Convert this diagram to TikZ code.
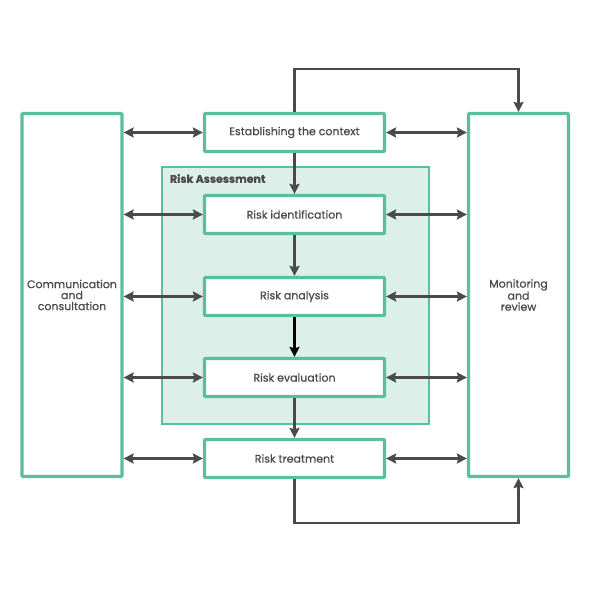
\documentclass[tikz,border=0pt]{standalone}
\usepackage{fontspec}
\setmainfont{Poppins}[FakeBold=0.7]
\usepackage{xcolor}
\usetikzlibrary{arrows.meta}
\definecolor{riskgreen}{HTML}{5BBF9A}
\definecolor{riskpale}{HTML}{DCEFE8}
\definecolor{riskgray}{HTML}{4A4A4A}

\begin{document}
\begin{tikzpicture}[
  x=1pt, y=1pt,
  box/.style={draw=riskgreen, line width=3.2pt, fill=white, rounded corners=1pt, minimum width=180pt, minimum height=38pt, align=center, font=\fontsize{11}{12}\selectfont, text=riskgray},
  side/.style={draw=riskgreen, line width=3.2pt, fill=white, rounded corners=1pt, minimum width=100pt, minimum height=363pt, align=center, font=\fontsize{11}{11}\selectfont, text=riskgray},
  arr/.style={-{Stealth[length=10pt,width=10pt,inset=1.5pt]}, line width=2.2pt, draw=riskgray},
  dbl/.style={{Stealth[length=10pt,width=10pt,inset=1.5pt]}-{Stealth[length=10pt,width=10pt,inset=1.5pt]}, line width=2.2pt, draw=riskgray}
]
  \useasboundingbox (0,0) rectangle (591,592);

  % risk assessment panel
  \node[draw=riskgreen, line width=2.4pt, fill=riskpale, minimum width=267pt, minimum height=257pt] (ra) at (295.5,296.5) {};
  \node[anchor=north west, font=\fontsize{11}{12}\selectfont\bfseries, text=riskgray, inner sep=0pt] (ratitle) at ([xshift=9pt,yshift=-8pt]ra.north west) {Risk Assessment};

  \node[side] (comm) at (72,297)    {Communication\\and\\consultation};
  \node[side] (mon)  at (518.5,297) {Monitoring\\and\\review};

  \node[box] (est)   at (294.5,459.5) {Establishing the context};
  \node[box] (ident) at (294.5,377.5) {Risk identification};
  \node[box] (anal)  at (294.5,295.5) {Risk analysis};
  \node[box] (eval)  at (294.5,214.5) {Risk evaluation};
  \node[box] (treat) at (294.5,133.5) {Risk treatment};

  \draw[arr] (est) -- (ident);
  \draw[arr] (ident) -- (anal);
  \draw[arr, draw=black] (anal) -- (eval);
  \draw[arr] (eval) -- (treat);

  \foreach \n in {est, ident, anal, eval, treat} {
    \draw[dbl] (\n.west -| comm.east) -- (\n.west);
    \draw[dbl] (\n.east) -- (\n.east -| mon.west);
  }

  \draw[arr] (est.north) -- ++(0,43) -| (mon.north);
  \draw[arr] (treat.south) -- ++(0,-44) -| (mon.south);
\end{tikzpicture}
\end{document}
